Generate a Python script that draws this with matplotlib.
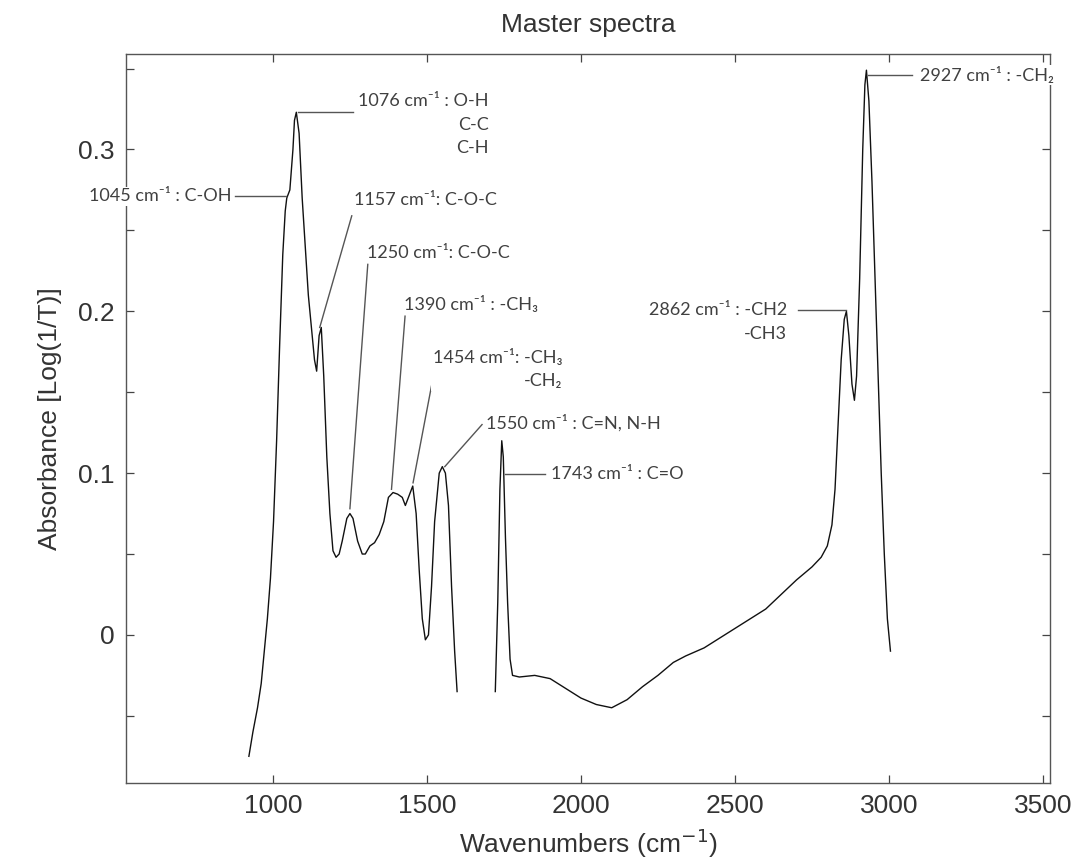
import matplotlib
matplotlib.use("Agg")
import matplotlib.pyplot as plt
from matplotlib.ticker import MultipleLocator, FuncFormatter

# spectrum, first band region (fingerprint) and second region (C=O .. C-H)
seg1_wn = [922, 935, 950, 962, 972, 982, 992, 1002, 1012, 1022, 1032, 1040,
           1045, 1055, 1065, 1070, 1076, 1085, 1095, 1105, 1115, 1125, 1135,
           1142, 1150, 1157, 1165, 1175, 1185, 1195, 1205, 1215, 1225, 1240,
           1250, 1260, 1275, 1290, 1300, 1315, 1330, 1345, 1360, 1375, 1390,
           1405, 1420, 1430, 1440, 1454, 1465, 1475, 1485, 1495, 1505, 1515,
           1525, 1540, 1550, 1560, 1570, 1580, 1590, 1598]
seg1_abs = [-0.075, -0.060, -0.045, -0.030, -0.010, 0.010, 0.035, 0.070, 0.120,
            0.180, 0.235, 0.262, 0.270, 0.275, 0.300, 0.318, 0.323, 0.310,
            0.270, 0.240, 0.210, 0.190, 0.170, 0.163, 0.185, 0.190, 0.160,
            0.110, 0.075, 0.052, 0.048, 0.050, 0.058, 0.072, 0.075, 0.072,
            0.058, 0.050, 0.050, 0.055, 0.057, 0.062, 0.070, 0.085, 0.088,
            0.087, 0.085, 0.080, 0.085, 0.092, 0.075, 0.040, 0.010, -0.003,
            0.000, 0.030, 0.070, 0.100, 0.104, 0.100, 0.080, 0.030, -0.010,
            -0.035]

seg2_wn = [1722, 1730, 1737, 1743, 1748, 1755, 1762, 1770, 1778, 1800, 1850,
           1900, 1950, 2000, 2050, 2100, 2150, 2200, 2250, 2300, 2340, 2400,
           2450, 2500, 2550, 2600, 2650, 2700, 2750, 2780, 2800, 2815, 2825,
           2835, 2845, 2855, 2862, 2870, 2880, 2888, 2895, 2905, 2915, 2922,
           2927, 2935, 2945, 2955, 2965, 2975, 2985, 2995, 3005]
seg2_abs = [-0.035, 0.020, 0.090, 0.120, 0.110, 0.060, 0.020, -0.015, -0.025,
            -0.026, -0.025, -0.027, -0.033, -0.039, -0.043, -0.045, -0.040,
            -0.032, -0.025, -0.017, -0.013, -0.008, -0.002, 0.004, 0.010,
            0.016, 0.025, 0.034, 0.042, 0.048, 0.055, 0.068, 0.090, 0.130,
            0.170, 0.195, 0.200, 0.185, 0.155, 0.145, 0.160, 0.220, 0.300,
            0.340, 0.349, 0.330, 0.280, 0.220, 0.160, 0.100, 0.050, 0.010,
            -0.010]

x_ticks = [1000, 1500, 2000, 2500, 3000, 3500]

# peak labels: text, text anchor (wn, abs), alignment, leader line from -> to
labels = [
    ("1076 cm⁻¹ : O-H\nC-C\nC-H", (1276, 0.335), "left", "top", [(1260, 0.323), (1080, 0.323)]),
    ("1045 cm⁻¹ : C-OH", (867, 0.271), "right", "center", [(877, 0.271), (1043, 0.271)]),
    ("1157 cm⁻¹: C-O-C", (1262, 0.2685), "left", "center", [(1256, 0.259), (1152, 0.19)]),
    ("1250 cm⁻¹: C-O-C", (1304, 0.236), "left", "center", [(1308, 0.229), (1250, 0.078)]),
    ("1390 cm⁻¹ : -CH₃", (1425, 0.204), "left", "center", [(1429, 0.197), (1385, 0.09)]),
    ("1454 cm⁻¹: -CH₃\n-CH₂", (1519, 0.177), "left", "top", [(1527, 0.166), (1455, 0.094)]),
    ("1550 cm⁻¹ : C=N, N-H", (1692, 0.131), "left", "center", [(1679, 0.130), (1558, 0.104)]),
    ("1743 cm⁻¹ : C=O", (1903, 0.0994), "left", "center", [(1753, 0.0994), (1883, 0.0994)]),
    ("2862 cm⁻¹ : -CH2\n-CH3", (2669, 0.2055), "right", "top", [(2705, 0.2006), (2860, 0.2006)]),
    ("2927 cm⁻¹ : -CH₂", (3101, 0.346), "left", "center", [(2932, 0.346), (3075, 0.346)]),
]

txt = "#333333"
plt.rcParams["font.family"] = ["Liberation Sans", "DejaVu Sans"]

fig = plt.figure(figsize=(10.73, 8.6), dpi=100)
ax = fig.add_axes([126 / 1073, 77 / 860, 924 / 1073, 729 / 860])

ax.plot(seg1_wn, seg1_abs, color="#111111", lw=1.0)
ax.plot(seg2_wn, seg2_abs, color="#111111", lw=1.0)

for text, pos, ha, va, line in labels:
    (x0, y0), (x1, y1) = line
    ax.plot([x0, x1], [y0, y1], color="#555555", lw=1.0, clip_on=False)
    ax.text(pos[0], pos[1], text, ha=ha, va=va, multialignment="right",
            fontsize=13, color="#404040", linespacing=1.6,
            family=["Lato", "DejaVu Sans"], clip_on=False, zorder=5,
            bbox=dict(facecolor="white", edgecolor="none", pad=1.0))

ax.set_xlim(523, 3523)
ax.set_ylim(-0.0915, 0.359)
ax.set_xticks(x_ticks)
ax.yaxis.set_major_locator(MultipleLocator(0.1))
ax.yaxis.set_minor_locator(MultipleLocator(0.05))
ax.yaxis.set_major_formatter(FuncFormatter(lambda v, p: "0" if abs(v) < 1e-9 else f"{v:.1f}"))
ax.tick_params(which="both", direction="in", top=True, right=True,
               length=6, width=0.9, color="#444444", labelsize=19,
               labelcolor=txt)
ax.tick_params(axis="y", pad=8)
ax.tick_params(axis="x", pad=8)
for s in ax.spines.values():
    s.set_color("#555555")
    s.set_linewidth(1.0)

ax.set_xlabel("Wavenumbers (cm$^{-1}$)", fontsize=19, color=txt, labelpad=6)
ax.set_ylabel("Absorbance [Log(1/T)]", fontsize=19, color=txt, labelpad=12)
ax.set_title("Master spectra", fontsize=19, color=txt, pad=16)

fig.savefig("out.png", dpi=100)
